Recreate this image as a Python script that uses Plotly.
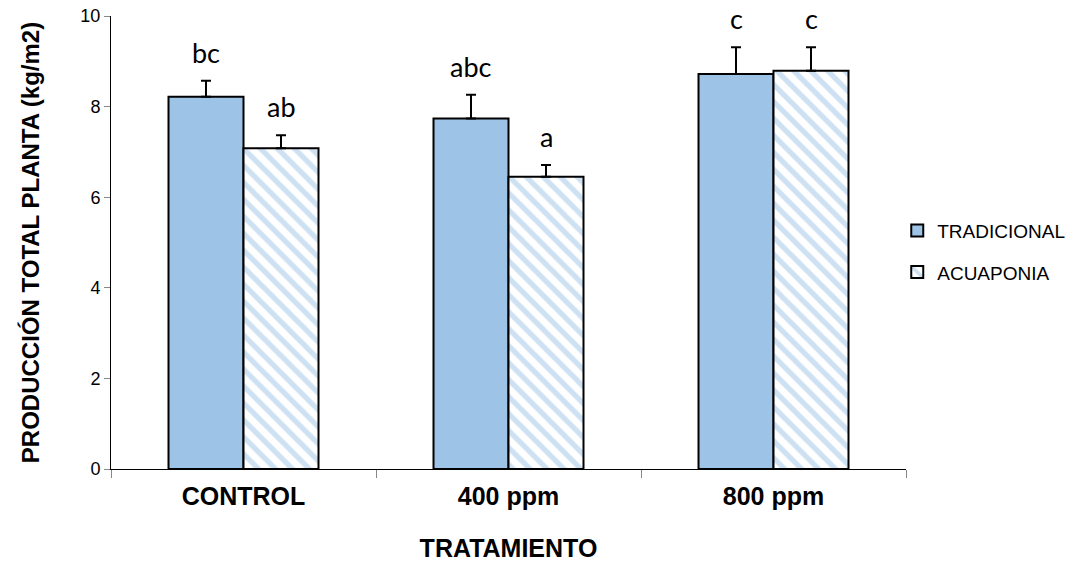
import plotly.graph_objects as go

categories = ["CONTROL", "400 ppm", "800 ppm"]
tradicional = [8.22, 7.74, 8.72]
tradicional_err = [0.35, 0.52, 0.59]
acuaponia = [7.08, 6.45, 8.79]
acuaponia_err = [0.29, 0.26, 0.52]
letters_trad = ["bc", "abc", "c"]
letters_acua = ["ab", "a", "c"]

BLUE = "#9dc3e6"
ARIAL = "Liberation Sans, Arial, sans-serif"
LETTER_FONT = "Lato, Open Sans, sans-serif"

fig = go.Figure()
fig.add_trace(go.Bar(
    name="TRADICIONAL", x=categories, y=tradicional, legendgroup="t",
    marker=dict(color=BLUE, line=dict(color="black", width=2)),
    error_y=dict(type="data", array=tradicional_err, arrayminus=[0]*3,
                 symmetric=False, color="black", thickness=2, width=5),
))
fig.add_trace(go.Bar(
    name="ACUAPONIA", x=categories, y=acuaponia, legendgroup="a",
    marker=dict(color="white", line=dict(color="black", width=2),
                pattern=dict(shape="\\", fgcolor=BLUE, bgcolor="white",
                             size=12, solidity=0.45)),
    error_y=dict(type="data", array=acuaponia_err, arrayminus=[0]*3,
                 symmetric=False, color="black", thickness=2, width=5),
))

annotations = []
for i, c in enumerate(categories):
    annotations.append(dict(x=c, y=tradicional[i] + tradicional_err[i],
                            text=letters_trad[i], showarrow=False,
                            xshift=-37.5, yshift=10, yanchor="bottom",
                            font=dict(family=LETTER_FONT, size=27, color="black")))
    annotations.append(dict(x=c, y=acuaponia[i] + acuaponia_err[i],
                            text=letters_acua[i], showarrow=False,
                            xshift=37.5, yshift=10, yanchor="bottom",
                            font=dict(family=LETTER_FONT, size=27, color="black")))

fig.update_layout(
    width=1078, height=566,
    margin=dict(l=111, r=172, t=16, b=97, autoexpand=False),
    plot_bgcolor="white", paper_bgcolor="white",
    barmode="group", bargap=0.434, bargroupgap=0,
    showlegend=True,
    legend=dict(x=0.989, y=0.48, xanchor="left", yanchor="middle",
                font=dict(family=ARIAL, size=19, color="black"),
                tracegroupgap=14, itemwidth=30),
    annotations=annotations,
    xaxis=dict(
        showline=True, linecolor="black", linewidth=1, automargin=False,
        ticks="outside", tickson="boundaries", ticklen=8, tickcolor="#888",
        ticklabelstandoff=5,
        tickfont=dict(family=ARIAL, size=25, color="black"),
        title=dict(text="<b>TRATAMIENTO</b>", standoff=30,
                   font=dict(family=ARIAL, size=25, color="black")),
        showgrid=False,
    ),
    yaxis=dict(
        range=[0, 10], dtick=2, showline=True, linecolor="black", linewidth=1,
        automargin=False,
        ticks="outside", ticklen=6, tickcolor="#888", showgrid=False, zeroline=False,
        tickfont=dict(family=ARIAL, size=18, color="black"),
        title=dict(text="<b>PRODUCCIÓN TOTAL PLANTA (kg/m2)</b>", standoff=33,
                   font=dict(family=ARIAL, size=24, color="black")),
    ),
)
fig.update_xaxes(tickprefix="<b>", ticksuffix="</b>")

fig.write_html("out.html", config={"displayModeBar": False},
               post_script="document.body.style.margin='0';")
